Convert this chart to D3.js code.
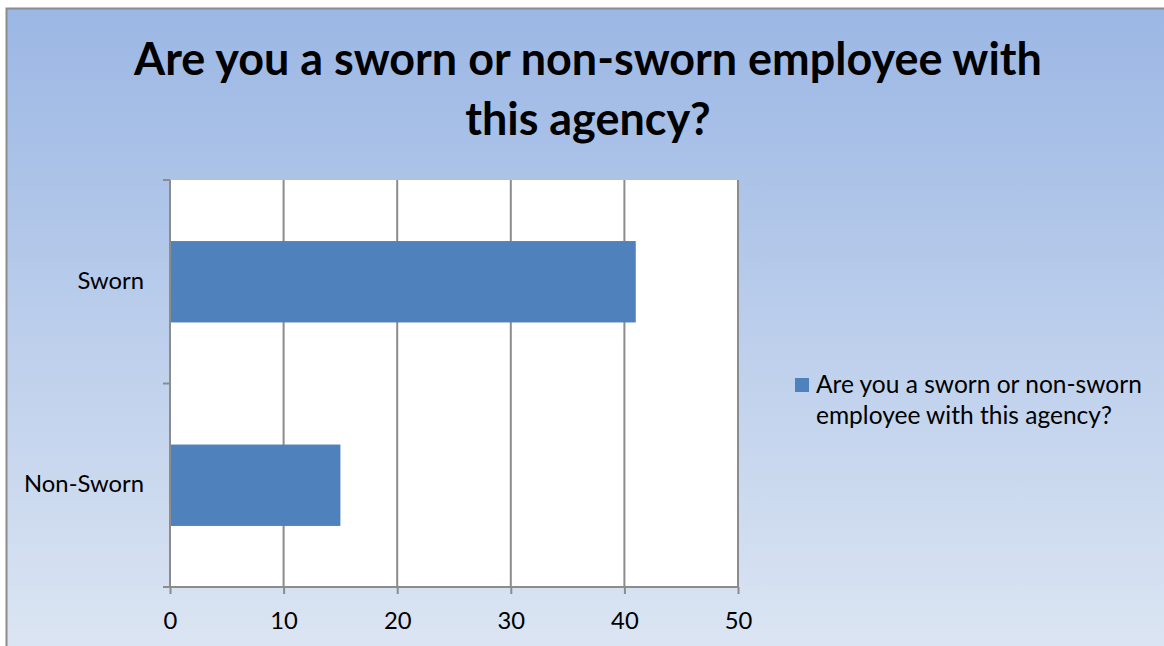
<!DOCTYPE html>
<html>
<head>
<meta charset="utf-8">
<script src="https://cdn.jsdelivr.net/npm/d3@7"></script>
<style>
  html, body { margin: 0; padding: 0; background: #ffffff; }
  svg { display: block; }
  text { font-family: Lato, "Open Sans", sans-serif; }
</style>
</head>
<body>
<svg id="chart" width="1164" height="646"></svg>
<script>
// Survey responses
const categories = ["Sworn", "Non-Sworn"];
const values = [41, 15];
const xTicks = [0, 10, 20, 30, 40, 50];
const titleLines = ["Are you a sworn or non-sworn employee with", "this agency?"];
const seriesName = ["Are you a sworn or non-sworn", "employee with this agency?"];

const W = 1164, H = 646;
const svg = d3.select("#chart");

// Pick a font size so that a sample string spans the given width
function fitSize(sample, width, weight) {
  const t = svg.append("text").attr("font-size", 100).attr("font-weight", weight || "normal").text(sample);
  const w = t.node().getComputedTextLength();
  t.remove();
  return 100 * width / w;
}
const titleSize = fitSize(titleLines[0], 908, "bold");
const labelSize = fitSize("Non-Sworn", 120);
const legendSize = fitSize(seriesName[0], 326);

// Background panel with vertical gradient
const defs = svg.append("defs");
const grad = defs.append("linearGradient")
  .attr("id", "bg").attr("x1", 0).attr("y1", 0).attr("x2", 0).attr("y2", 1);
grad.append("stop").attr("offset", "0%").attr("stop-color", "#9bb7e4");
grad.append("stop").attr("offset", "100%").attr("stop-color", "#dde6f3");

svg.append("rect").attr("x", 0).attr("y", 0).attr("width", W).attr("height", H).attr("fill", "#ffffff");
svg.append("rect")
  .attr("x", 6.5).attr("y", 8.5).attr("width", W + 10).attr("height", H + 10)
  .attr("fill", "url(#bg)").attr("stroke", "#8c8c8c").attr("stroke-width", 2);

// Title
const title = svg.append("g");
titleLines.forEach((t, i) => {
  title.append("text")
    .attr("x", 588).attr("y", 75 + i * 60)
    .attr("text-anchor", "middle")
    .attr("font-size", titleSize).attr("font-weight", "bold")
    .attr("fill", "#000")
    .text(t);
});

// Plot area
const plot = { left: 170, right: 738, top: 180, bottom: 587 };
const x = d3.scaleLinear().domain([0, 50]).range([plot.left, plot.right]);
const y = d3.scaleBand().domain(categories).range([plot.top, plot.bottom]).paddingInner(0.6).paddingOuter(0.3);
const yBands = d3.scaleBand().domain(categories).range([plot.top, plot.bottom]);

svg.append("rect")
  .attr("x", plot.left).attr("y", plot.top)
  .attr("width", plot.right - plot.left).attr("height", plot.bottom - plot.top)
  .attr("fill", "#ffffff");

// Vertical gridlines
svg.append("g").selectAll("line").data(xTicks.slice(1)).join("line")
  .attr("x1", d => x(d)).attr("x2", d => x(d))
  .attr("y1", plot.top).attr("y2", plot.bottom)
  .attr("stroke", "#8c8c8c").attr("stroke-width", 2);

// Bars
svg.append("g").selectAll("rect").data(categories).join("rect")
  .attr("x", x(0))
  .attr("y", d => y(d))
  .attr("width", (d, i) => x(values[i]) - x(0))
  .attr("height", y.bandwidth())
  .attr("fill", "#4f81bd");

// X axis
const xAxis = svg.append("g").attr("transform", `translate(0,${plot.bottom})`)
  .call(d3.axisBottom(x).tickValues(xTicks).tickSize(7).tickPadding(14).tickSizeOuter(0));
xAxis.attr("font-family", null).attr("font-size", null);
xAxis.select(".domain").attr("stroke", "#8c8c8c").attr("stroke-width", 2)
  .attr("d", `M${plot.left - 7},0H${plot.right}`);
xAxis.selectAll(".tick line").attr("stroke", "#8c8c8c").attr("stroke-width", 2);
xAxis.selectAll(".tick text").attr("font-size", labelSize).attr("fill", "#000")
  .attr("dy", null).attr("y", 42);

// Y axis: band boundary tick marks
const yEdges = [plot.top, ...categories.map(c => yBands(c) + yBands.bandwidth())];
const yAxis = svg.append("g");
yAxis.append("line")
  .attr("x1", plot.left).attr("x2", plot.left).attr("y1", plot.top).attr("y2", plot.bottom)
  .attr("stroke", "#8c8c8c").attr("stroke-width", 2);
yAxis.selectAll("line.t").data(yEdges).join("line").attr("class", "t")
  .attr("x1", plot.left - 7).attr("x2", plot.left)
  .attr("y1", d => d).attr("y2", d => d)
  .attr("stroke", "#8c8c8c").attr("stroke-width", 2);
yAxis.selectAll("text").data(categories).join("text")
  .attr("x", 144).attr("y", d => yBands(d) + yBands.bandwidth() / 2 + 7)
  .attr("text-anchor", "end")
  .attr("font-size", labelSize).attr("fill", "#000")
  .text(d => d);

// Legend
const legend = svg.append("g");
legend.append("rect").attr("x", 795).attr("y", 378).attr("width", 14).attr("height", 14).attr("fill", "#4f81bd");
seriesName.forEach((t, i) => {
  legend.append("text")
    .attr("x", 816).attr("y", 393 + i * 31)
    .attr("font-size", legendSize).attr("fill", "#000")
    .text(t);
});
</script>
</body>
</html>
